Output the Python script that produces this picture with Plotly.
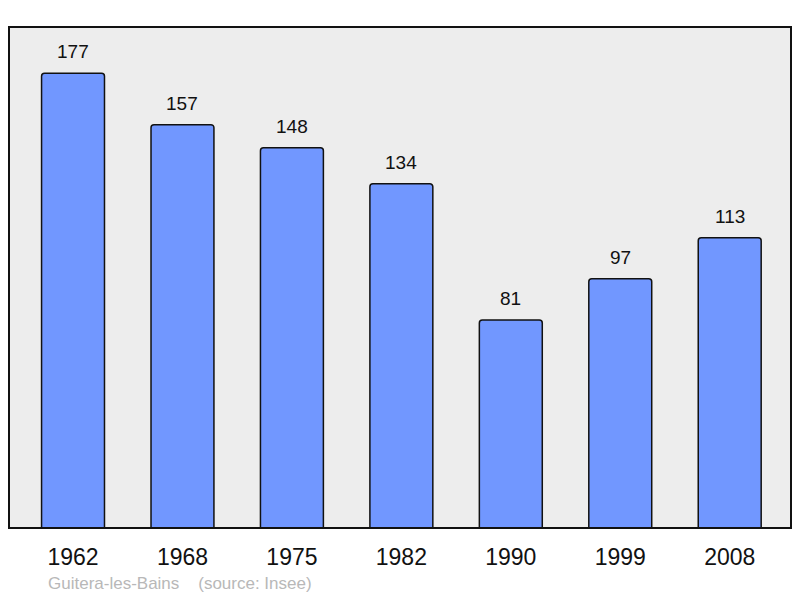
import plotly.graph_objects as go

years = ["1962", "1968", "1975", "1982", "1990", "1999", "2008"]
population = [177, 157, 148, 134, 81, 97, 113]

fig = go.Figure()
fig.add_trace(go.Bar(
    x=years, y=population,
    width=0.575,
    marker=dict(color="#7197ff", line=dict(color="#111111", width=1.5), cornerradius=3),
    hoverinfo="skip",
))
for i, v in enumerate(population):
    fig.add_annotation(x=i, y=v, text=str(v), showarrow=False, yanchor="bottom",
                       yshift=9, font=dict(family="Liberation Sans, Arial", size=19, color="#111111"))

fig.add_shape(type="rect", xref="paper", yref="paper", x0=0, x1=1, y0=0, y1=1,
              line=dict(color="#111111", width=2), layer="above")

fig.add_annotation(xref="paper", yref="paper", x=(46-9)/782, y=-(583-528)/501,
                   xanchor="left", yanchor="middle", showarrow=False,
                   text="Guitera-les-Bains&nbsp;&nbsp;&nbsp;&nbsp;(source: Insee)",
                   font=dict(family="Liberation Sans, Arial", size=17, color="#b8b8b8"))

fig.update_layout(
    width=800, height=598,
    margin=dict(l=9, r=9, t=27, b=70),
    paper_bgcolor="white", plot_bgcolor="#ededed",
    showlegend=False,
    xaxis=dict(type="category", range=[-0.585, 6.56], showgrid=False, zeroline=False,
               ticks="outside", ticklen=8, tickcolor="rgba(0,0,0,0)",
               tickfont=dict(family="Liberation Sans, Arial", size=23, color="#111111")),
    yaxis=dict(range=[0, 195], showgrid=False, zeroline=False, showticklabels=False),
)
fig.write_html("out.html", config={"displayModeBar": False},
               post_script="document.body.style.margin='0';document.body.style.overflow='hidden';")
